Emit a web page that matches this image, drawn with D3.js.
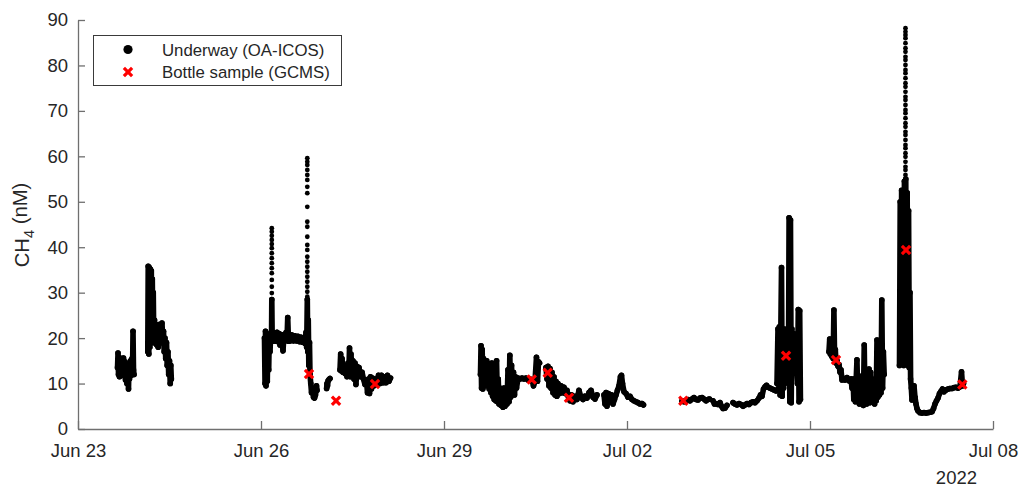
<!DOCTYPE html>
<html>
<head>
<meta charset="utf-8">
<script src="https://cdn.jsdelivr.net/npm/d3@7"></script>
<style>
  html, body { margin: 0; padding: 0; background: #fff; }
  svg { display: block; font-family: "Liberation Sans", Arial, Helvetica, sans-serif; }
</style>
</head>
<body>
<svg id="chart" width="1023" height="487"></svg>
<script>
// Times are days since 23 Jun 2022 00:00 UTC, CH4 in nM.

const xTickDays = [0, 3, 6, 9, 12, 15];
const xTickLabels = ["Jun 23", "Jun 26", "Jun 29", "Jul 02", "Jul 05", "Jul 08"];
const yTickValues = [0, 10, 20, 30, 40, 50, 60, 70, 80, 90];
const yearLabel = "2022";
const legendLabels = ["Underway (OA-ICOS)", "Bottle sample (GCMS)"];

// Underway OA-ICOS record, one array per continuous stretch of the cruise track
const legJun23 = [[0.648,13.5],[0.656,16.7],[0.664,12.0],[0.672,15.8],[0.680,11.5],[0.697,15.0],[0.705,12.2],[0.721,15.5],[0.730,11.8],[0.746,15.6],[0.754,12.5],[0.770,14.8],[0.779,10.8],[0.795,13.5],[0.803,10.0],[0.820,12.5],[0.828,8.8],[0.836,13.8],[0.844,11.0],[0.861,15.0],[0.869,11.8],[0.885,15.5],[0.893,12.0],[0.902,21.5],[0.910,13.0],[0.918,12.0]];
const legJun24 = [[1.144,17],[1.151,35.8],[1.161,16.5],[1.169,35.5],[1.177,18],[1.185,35.2],[1.193,20],[1.202,34.8],[1.210,22],[1.218,33],[1.226,22],[1.234,30],[1.243,19],[1.254,24],[1.266,19],[1.279,22.5],[1.292,18.5],[1.303,21],[1.315,18],[1.328,23],[1.341,19.5],[1.353,21],[1.366,19],[1.377,23.3],[1.390,19.5],[1.402,21.5],[1.413,17],[1.426,20],[1.438,15.5],[1.451,19],[1.462,14],[1.475,17],[1.487,12],[1.500,15],[1.512,10],[1.521,14],[1.530,11]];
const legJun26 = [[3.057,20.0],[3.066,10.0],[3.074,21.5],[3.082,9.5],[3.093,21.0],[3.103,10.5],[3.115,20.5],[3.126,13.0],[3.136,20.8],[3.148,17.0],[3.159,20.8],[3.172,19.2],[3.177,28.5],[3.184,19.3],[3.197,20.9],[3.213,19.4],[3.230,20.8],[3.246,19.3],[3.262,21.3],[3.279,19.2],[3.295,21.0],[3.311,18.5],[3.328,20.8],[3.344,19.3],[3.361,17.2],[3.377,20.8],[3.393,19.4],[3.410,21.2],[3.426,19.6],[3.438,24.5],[3.451,19.3],[3.467,20.8],[3.484,19.4],[3.508,20.7],[3.533,19.4],[3.557,20.5],[3.582,19.4],[3.607,20.4],[3.631,19.2],[3.656,20.2],[3.680,19.1],[3.705,20.0],[3.721,18.8],[3.738,21.3],[3.749,18.0],[3.759,28.5],[3.767,17.0],[3.775,24.0],[3.784,14.0],[3.795,19.0],[3.803,12.0],[3.816,10.0],[3.828,8.0],[3.844,8.5],[3.861,7.0],[3.877,6.8],[3.893,7.5],[3.910,9.5],[3.918,8.5]];
const legJun27a = [[4.076,8.9],[4.082,10.0],[4.090,9.5],[4.100,10.6],[4.115,10.9],[4.131,11.1]];
const legJun27b = [[4.295,13.0],[4.306,16.5],[4.316,12.8],[4.328,15.5],[4.344,12.5],[4.361,13.5],[4.377,12.2],[4.393,13.8],[4.410,11.5],[4.426,14.5],[4.439,12.0],[4.451,17.8],[4.462,11.5],[4.475,16.5],[4.492,12.5],[4.508,15.0],[4.525,11.0],[4.541,14.5],[4.557,9.8],[4.574,13.8],[4.590,11.5],[4.607,13.5],[4.631,11.5],[4.656,12.5],[4.680,11.0],[4.705,9.8],[4.730,10.5],[4.746,8.0],[4.762,11.0],[4.779,7.8],[4.795,11.5],[4.811,8.8],[4.828,11.2],[4.852,9.5],[4.877,11.0],[4.902,9.8],[4.926,11.8],[4.951,10.0],[4.975,11.8],[5.000,10.2],[5.025,11.5],[5.049,10.2],[5.074,11.8],[5.098,10.5],[5.123,11.2]];
const legJun29 = [[6.598,12.0],[6.607,18.3],[6.616,9.0],[6.626,17.5],[6.636,8.8],[6.648,15.5],[6.659,9.5],[6.672,14.8],[6.685,10.0],[6.700,15.0],[6.713,9.5],[6.726,14.0],[6.741,8.8],[6.754,13.5],[6.770,8.0],[6.784,14.5],[6.797,7.2],[6.810,12.0],[6.823,6.5],[6.836,13.5],[6.849,6.2],[6.862,15.0],[6.875,6.0],[6.889,11.0],[6.902,5.5],[6.918,9.0],[6.934,5.2],[6.951,8.0],[6.967,4.8],[6.984,9.0],[7.000,5.0],[7.016,8.0],[7.033,5.5],[7.049,13.0],[7.066,6.0],[7.079,16.2],[7.092,7.0],[7.107,14.0],[7.123,8.0],[7.139,12.5],[7.156,7.5],[7.172,11.5],[7.189,9.0],[7.213,11.2],[7.246,11.0],[7.279,11.2],[7.311,11.0],[7.344,11.2],[7.377,10.8],[7.410,11.0],[7.443,10.8],[7.467,9.5],[7.492,10.5],[7.516,15.8],[7.533,10.5],[7.549,14.8],[7.566,14.5]];
const legJun30 = [[7.672,13.5],[7.689,11.0],[7.705,13.8],[7.721,9.5],[7.738,13.3],[7.754,9.0],[7.770,12.5],[7.787,8.0],[7.803,11.5],[7.820,7.5],[7.836,10.5],[7.852,7.2],[7.869,10.0],[7.893,7.8],[7.918,9.5],[7.943,8.0],[7.967,9.2],[7.992,7.8],[8.016,8.5],[8.041,7.0],[8.066,6.2],[8.090,7.5],[8.115,6.0],[8.148,7.2],[8.180,6.5],[8.213,8.5],[8.246,7.0],[8.279,6.5],[8.311,7.2],[8.344,6.8],[8.377,8.0],[8.410,8.5],[8.443,7.0],[8.475,6.6],[8.508,7.5]];
const legJul01 = [[8.623,7.5],[8.639,5.5],[8.656,8.0],[8.672,5.0],[8.697,7.8],[8.721,6.0],[8.746,7.5],[8.770,5.5],[8.795,6.5],[8.820,7.5],[8.844,8.5],[8.869,9.5],[8.893,11.5],[8.910,11.8],[8.926,10.0],[8.951,8.2],[8.984,7.8],[9.016,7.0],[9.049,7.2],[9.082,6.5],[9.115,6.2],[9.148,6.0],[9.180,5.8],[9.213,5.5],[9.246,5.6],[9.270,5.3]];
const legJul02 = [[9.902,6.2],[9.934,6.0],[9.967,6.3],[10.000,6.5],[10.033,6.2],[10.066,6.6],[10.098,6.9],[10.131,6.5],[10.164,6.4],[10.197,6.8],[10.230,6.9],[10.262,6.6],[10.295,6.2],[10.328,6.5],[10.352,6.6]];
const legJul03a = [[10.410,6.2],[10.434,5.5],[10.459,5.6],[10.492,5.4],[10.525,5.8],[10.549,5.0],[10.574,4.5],[10.607,4.6],[10.639,5.2]];
const legJul03b = [[10.738,5.8],[10.770,5.5],[10.803,5.3],[10.836,5.6],[10.869,5.4],[10.902,5.0],[10.934,5.3],[10.967,5.6],[11.000,5.4],[11.033,5.8],[11.066,6.0],[11.098,5.8],[11.131,6.2],[11.164,6.8],[11.189,7.5],[11.213,7.2],[11.238,8.8],[11.262,9.3],[11.287,9.6],[11.311,9.2],[11.344,9.0],[11.377,8.8],[11.410,8.6],[11.443,8.4]];
const legJul04 = [[11.459,10.0],[11.475,22.0],[11.487,8.5],[11.498,22.5],[11.510,7.5],[11.521,21.0],[11.533,35.5],[11.544,7.2],[11.556,21.5],[11.567,9.0],[11.579,22.0],[11.590,12.0],[11.607,20.0],[11.623,16.0],[11.635,18.0],[11.646,10.0],[11.657,46.5],[11.669,6.0],[11.680,46.0],[11.692,5.8],[11.703,22.0],[11.715,17.0],[11.730,21.0],[11.746,17.0],[11.762,18.0],[11.779,14.0],[11.795,10.0],[11.808,26.3],[11.820,6.0],[11.831,26.0],[11.843,6.5]];
const legJul05 = [[12.311,17.0],[12.323,19.8],[12.334,16.5],[12.346,19.5],[12.357,16.0],[12.369,18.5],[12.380,15.5],[12.392,26.2],[12.403,16.0],[12.415,17.5],[12.426,14.5],[12.443,15.0],[12.459,13.8],[12.475,14.2],[12.492,12.5],[12.508,13.0],[12.525,10.8],[12.541,11.2],[12.574,10.8],[12.607,11.3],[12.639,10.6],[12.672,11.0],[12.689,9.0],[12.705,11.0],[12.718,6.5],[12.731,10.5],[12.744,6.0],[12.757,11.0],[12.770,15.2],[12.784,6.5],[12.797,11.0],[12.810,5.5],[12.823,10.0],[12.836,11.6],[12.849,6.0],[12.862,10.0],[12.875,5.2],[12.889,18.5],[12.902,6.0],[12.915,10.5],[12.928,5.5],[12.941,9.5],[12.954,6.0],[12.967,13.2],[12.980,5.8],[12.993,12.5],[13.007,6.5],[13.020,11.0],[13.033,6.0],[13.046,10.0],[13.059,5.5],[13.072,11.0],[13.085,6.2],[13.098,19.6],[13.111,7.0],[13.125,18.8],[13.138,7.5],[13.151,17.0],[13.164,8.0],[13.177,28.4],[13.190,9.0],[13.203,17.0],[13.216,12.0]];
const legJul06 = [[13.467,14.0],[13.479,50.0],[13.490,14.5],[13.502,52.5],[13.513,15.0],[13.525,51.0],[13.536,14.0],[13.548,54.5],[13.559,15.5],[13.570,55.0],[13.582,16.0],[13.593,52.0],[13.605,14.0],[13.616,48.0],[13.628,13.5],[13.639,30.0],[13.649,11.0],[13.661,9.0],[13.672,6.4],[13.689,8.0],[13.705,9.5],[13.721,7.0],[13.738,5.5],[13.754,4.5],[13.770,4.0],[13.803,3.6],[13.836,3.5],[13.869,3.6],[13.902,3.5],[13.934,3.6],[13.967,3.7],[14.000,3.8],[14.025,4.5],[14.049,5.5],[14.074,6.2],[14.098,6.8],[14.123,7.8],[14.148,8.3],[14.172,8.8],[14.197,8.2],[14.230,8.6],[14.262,8.8],[14.295,8.9],[14.328,8.9],[14.361,9.1],[14.393,9.2],[14.426,9.0],[14.459,9.3],[14.484,12.6],[14.500,9.5],[14.516,10.0]];

const underwayLegs = [legJun23, legJun24, legJun26, legJun27a, legJun27b, legJun29, legJun30,
  legJul01, legJul02, legJul03a, legJul03b, legJul04, legJul05, legJul06];

// Sparse readings at the top of the short methane bursts
const burstTimes = [3.177, 3.759, 13.565];
const burstJun26a = [29.9,31.3,32.8,34.3,35.4,36.5,37.6,38.7,39.8,40.7,41.6,42.5,43.4,44.2];
const burstJun26b = [29.1,30.2,31.3,32.4,33.5,34.6,35.7,36.8,37.9,39.4,40.5,42.3,44.5,45.6,48.9,51.9,53.3,54.8,55.9,57.0,58.1,58.8,59.6];
const burstJul06 = [54.8,55.9,57.0,57.7,58.8,59.9,60.7,61.8,62.5,63.6,64.7,65.4,66.5,67.3,68.4,69.5,70.2,71.3,72.4,73.1,74.2,75.3,76.1,77.2,78.3,79.0,80.1,81.2,81.9,83.0,83.8,84.9,86.0,86.7,87.4,88.2];

// Discrete GCMS bottle samples
const bottleTime = [3.787, 4.230, 4.869, 7.438, 7.700, 8.049, 9.923, 11.607, 12.426, 13.574, 14.497];
const bottleCH4  = [12.1, 6.2, 9.9, 10.9, 12.4, 6.9, 6.2, 16.1, 15.2, 39.4, 9.8];

// ---------------------------------------------------------------
const t0 = Date.UTC(2022, 5, 23);
const toDate = d => new Date(t0 + d * 864e5);

const svg = d3.select("#chart");
const textColor = "#262626";
const axisColor = "#6f6f6f";

const x = d3.scaleUtc().domain([toDate(0), toDate(15)]).range([78, 993]);
const y = d3.scaleLinear().domain([0, 90]).range([429, 20]);

// Axes (ticks point into the plot)
const xAxis = d3.axisBottom(x)
  .tickValues(xTickDays.map(toDate))
  .tickFormat((d, i) => xTickLabels[i])
  .tickSizeInner(-8).tickSizeOuter(0).tickPadding(15);
const yAxis = d3.axisLeft(y)
  .tickValues(yTickValues)
  .tickSizeInner(-7).tickSizeOuter(0).tickPadding(10);

const gx = svg.append("g").attr("transform", "translate(0,429)").call(xAxis);
const gy = svg.append("g").attr("transform", "translate(78,0)").call(yAxis);
[gx, gy].forEach(g => {
  g.select(".domain").attr("stroke", axisColor).attr("stroke-width", 1.3);
  g.selectAll(".tick line").attr("stroke", axisColor).attr("stroke-width", 1.3);
  g.selectAll(".tick text").attr("fill", textColor)
    .style("font-size", "18.5px").style("font-family", "'Liberation Sans', Arial, sans-serif");
});

svg.append("text")
  .attr("x", 977).attr("y", 484)
  .attr("text-anchor", "end")
  .attr("fill", textColor)
  .style("font-size", "18.5px")
  .text(yearLabel);

// y-axis title with subscript
const yTitle = svg.append("text")
  .attr("transform", "translate(29,225) rotate(-90)")
  .attr("text-anchor", "middle")
  .attr("fill", textColor)
  .style("font-size", "20.3px");
yTitle.append("tspan").text("CH");
yTitle.append("tspan").attr("dy", "0.32em").style("font-size", "14.5px").text("4");
yTitle.append("tspan").attr("dy", "-0.32em").text(" (nM)");

// Underway series: dense trace plus individual samples
const plot = svg.append("g");
const line = d3.line().x(d => x(toDate(d[0]))).y(d => y(d[1]));

plot.selectAll("path.uw")
  .data(underwayLegs)
  .join("path")
  .attr("class", "uw")
  .attr("d", line)
  .attr("fill", "none")
  .attr("stroke", "#000")
  .attr("stroke-width", 5.6)
  .attr("stroke-linejoin", "round")
  .attr("stroke-linecap", "round");

plot.selectAll("circle.uw")
  .data(underwayLegs.flat())
  .join("circle")
  .attr("class", "uw")
  .attr("cx", d => x(toDate(d[0])))
  .attr("cy", d => y(d[1]))
  .attr("r", 2.8)
  .attr("fill", "#000");

const burstPoints = [burstJun26a, burstJun26b, burstJul06]
  .flatMap((vals, i) => vals.map(v => [burstTimes[i], v]));
plot.selectAll("circle.burst")
  .data(burstPoints)
  .join("circle")
  .attr("class", "burst")
  .attr("cx", d => x(toDate(d[0])))
  .attr("cy", d => y(d[1]))
  .attr("r", 2.4)
  .attr("fill", "#000");

// Bottle samples as red crosses
const cross = d3.symbol().type(d3.symbolX).size(46);
plot.selectAll("path.bottle")
  .data(bottleTime.map((t, i) => [t, bottleCH4[i]]))
  .join("path")
  .attr("class", "bottle")
  .attr("transform", d => `translate(${x(toDate(d[0]))},${y(d[1])})`)
  .attr("d", cross)
  .attr("fill", "none")
  .attr("stroke", "#ff0000")
  .attr("stroke-width", 3.2);

// Legend
const legend = svg.append("g");
legend.append("rect")
  .attr("x", 93.5).attr("y", 35.5).attr("width", 248).attr("height", 50)
  .attr("fill", "#fff").attr("stroke", "#3a3a3a").attr("stroke-width", 1);
legend.append("circle").attr("cx", 128).attr("cy", 49.5).attr("r", 4.6).attr("fill", "#000");
legend.append("path")
  .attr("transform", "translate(128,72)")
  .attr("d", cross)
  .attr("fill", "none").attr("stroke", "#ff0000").attr("stroke-width", 3.2);
legend.selectAll("text")
  .data(legendLabels)
  .join("text")
  .attr("x", 162)
  .attr("y", (d, i) => 49.5 + i * 22.5)
  .attr("dy", "0.36em")
  .attr("fill", textColor)
  .style("font-size", "16.8px")
  .text(d => d);
</script>
</body>
</html>
